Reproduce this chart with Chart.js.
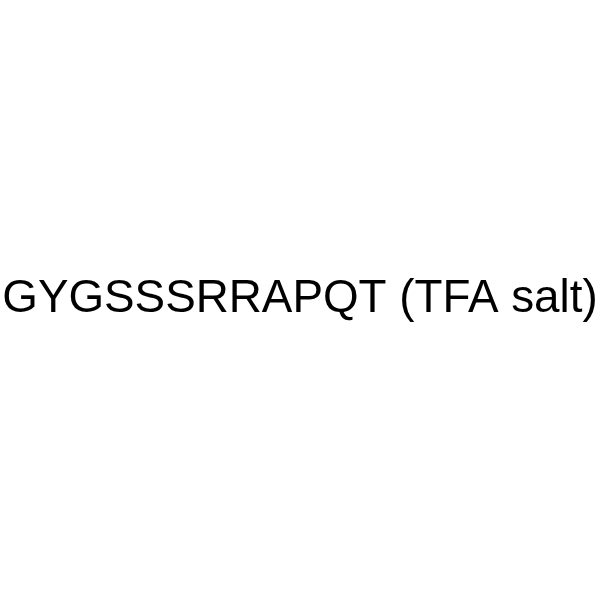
<!DOCTYPE html>
<html>
<head>
<meta charset="utf-8">
<style>
  html, body { margin: 0; padding: 0; background: #ffffff; }
  #wrap { width: 600px; height: 600px; }
</style>
<script src="https://cdn.jsdelivr.net/npm/chart.js@4"></script>
</head>
<body>
<div id="wrap"><canvas id="myChart" width="600" height="600"></canvas></div>
<script>
var titleText = "GYGSSSRRAPQT (TFA salt)";
var labels = [];
var values = [];

document.addEventListener("DOMContentLoaded", function () {
    var ctx = document.getElementById("myChart").getContext("2d");
    var myChart = new Chart(ctx, {
        type: "bar",
        data: {
            labels: labels,
            datasets: [
                {
                    data: values,
                    backgroundColor: "#000000",
                },
            ],
        },
        options: {
            responsive: false,
            animation: false,
            layout: {
                padding: { top: 272, left: 0, right: 0, bottom: 0 },
            },
            scales: {
                x: { display: false },
                y: { display: false },
            },
            plugins: {
                legend: { display: false },
                tooltip: { enabled: false },
                title: {
                    display: true,
                    text: titleText,
                    color: "#000000",
                    padding: 0,
                    font: {
                        family: "'Liberation Sans', Arial, sans-serif",
                        size: 45.8,
                        weight: "normal",
                        lineHeight: 1.2,
                    },
                },
            },
        },
    });
});
</script>
</body>
</html>
